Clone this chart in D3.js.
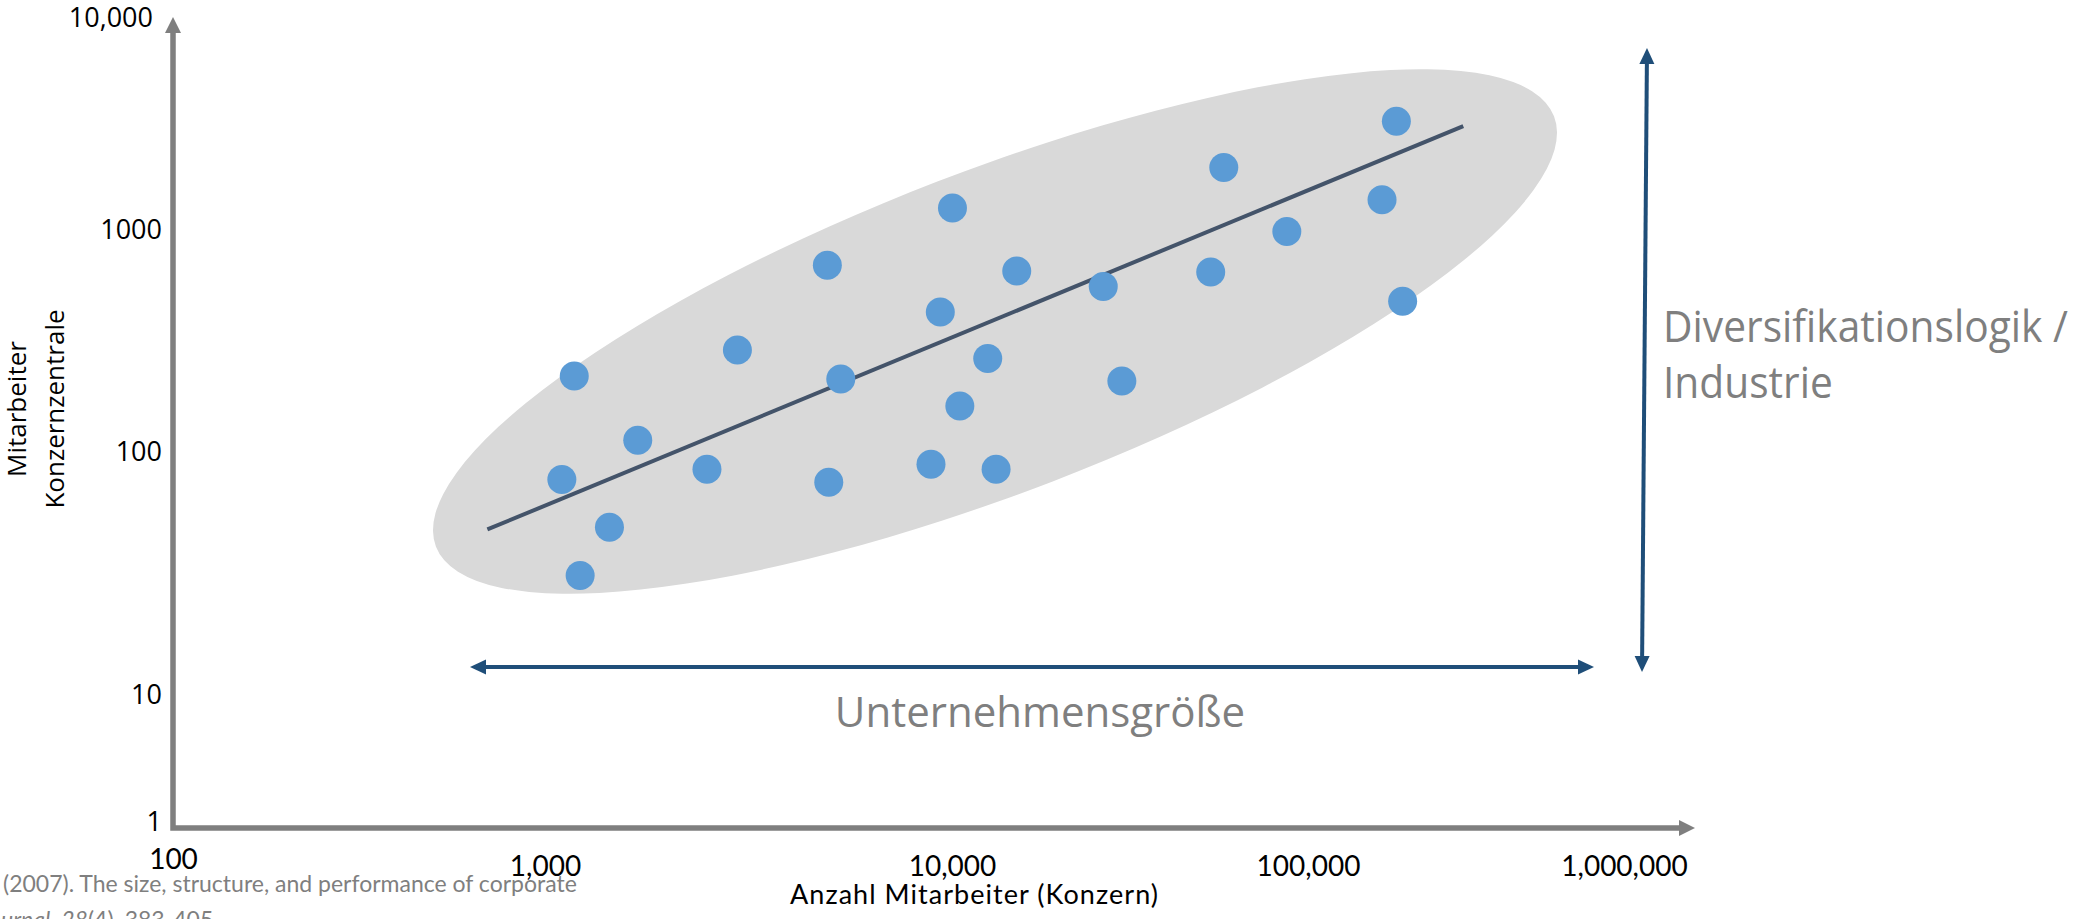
<!DOCTYPE html>
<html>
<head>
<meta charset="utf-8">
<script src="https://cdn.jsdelivr.net/npm/d3@7/dist/d3.min.js"></script>
<style>
  html, body { margin: 0; padding: 0; background: #ffffff; overflow: hidden; }
  svg { display: block; }
</style>
</head>
<body>
<svg id="chart" width="2079" height="919"></svg>
<script>
// Headquarters staff vs. total company employees (log–log, schematic)

// Total employees of the group (x) and headquarters staff (y), one entry per company
const employeesGroup = [1180, 1100, 1690, 1440, 1220, 2500, 2970, 4940, 4980, 5330,
                        8880, 9360, 10030, 10520, 13300, 12600, 15200, 26600, 30000,
                        53300, 58000, 87200, 171500, 190400, 199300];
const employeesHQ    = [220, 77, 113, 49, 31, 85, 288, 694, 75, 213,
                        89, 427, 1270, 161, 85, 264, 653, 556, 209,
                        647, 1970, 985, 1390, 3260, 477];

// Fitted trend (start and end of the line)
const trendX = [700, 310000];
const trendY = [48, 3090];

// Axis ticks
const xTickValues = [100, 1000, 10000, 100000, 1000000];
const xTickLabels = ["100", "1,000", "10,000", "100,000", "1,000,000"];
const yTickValues = [1, 10, 100, 1000, 10000];
const yTickLabels = ["1", "10", "100", "1000", "10,000"];

// Texts
const xTitle = "Anzahl Mitarbeiter (Konzern)";
const yTitle = ["Mitarbeiter", "Konzernzentrale"];
const sizeLabel = "Unternehmensgröße";
const diversLabel = ["Diversifikationslogik /", "Industrie"];
const sourceLine1 = "(2007). The size, structure, and performance of corporate";
const sourceJournalPrefix = "Strategic Management Jo";
const sourceJournal = "urnal";
const sourceVolume = "28";
const sourceRest = "(4), 383-405.";

const svg = d3.select("#chart");

const GRAY = "#7f7f7f";
const BLUE = "#1f4e79";
const DOT = "#5b9bd5";
const TREND = "#44546a";
const SHADE = "#d9d9d9";
const SANS = "'Open Sans', sans-serif";
const CAL = "Lato, sans-serif";

// Piecewise logarithmic scales: one segment per decade
const x = d3.scaleLog().domain(xTickValues).range([173, 545, 952, 1308, 1624]);
const y = d3.scaleLog().domain(yTickValues).range([822, 695, 452, 230, 18]);

// width of a string in a given font
function textWidth(str, family, size, style) {
  const t = svg.append("text")
    .attr("font-family", family).attr("font-size", size)
    .attr("font-style", style || "normal").text(str);
  const w = t.node().getComputedTextLength();
  t.remove();
  return w;
}

// ---- shaded ellipse around the point cloud
svg.append("ellipse")
  .attr("cx", 995).attr("cy", 331.5)
  .attr("rx", 599).attr("ry", 160.6)
  .attr("transform", "rotate(-21.05 995 331.5)")
  .attr("fill", SHADE);

// ---- trend line
svg.append("line")
  .attr("x1", x(trendX[0])).attr("y1", y(trendY[0]))
  .attr("x2", x(trendX[1])).attr("y2", y(trendY[1]))
  .attr("stroke", TREND).attr("stroke-width", 4);

// ---- points
svg.append("g").selectAll("circle")
  .data(employeesGroup.map((v, i) => ({ x: v, y: employeesHQ[i] })))
  .join("circle")
  .attr("cx", d => x(d.x))
  .attr("cy", d => y(d.y))
  .attr("r", 14.5)
  .attr("fill", DOT);

// ---- arrow helper (triangle head with tip at (tx,ty), pointing along angle)
function head(g, tx, ty, ang, len, wid, color) {
  const c = Math.cos(ang), s = Math.sin(ang);
  const bx = tx - c * len, by = ty - s * len;
  const px = -s * wid / 2, py = c * wid / 2;
  g.append("path")
    .attr("d", `M${tx},${ty}L${bx + px},${by + py}L${bx - px},${by - py}Z`)
    .attr("fill", color);
}

// ---- axes (gray arrows)
const axes = svg.append("g");
const ox = 173, oy = 828;
axes.append("path")
  .attr("d", `M${ox},32V${oy}H1681`)
  .attr("fill", "none").attr("stroke", GRAY).attr("stroke-width", 5.5)
  .attr("stroke-linejoin", "miter");
head(axes, ox, 17, -Math.PI / 2, 16, 16, GRAY);
head(axes, 1695, oy, 0, 16, 16, GRAY);

// ---- tick labels
const yAxis = svg.append("g")
  .attr("transform", "translate(162,0)")
  .call(d3.axisLeft(y).tickValues(yTickValues)
        .tickFormat((d, i) => yTickLabels[i]).tickSize(0).tickPadding(0));
yAxis.select(".domain").remove();
yAxis.selectAll("text")
  .attr("font-family", SANS).attr("font-size", 27)
  .attr("fill", "#000");
yAxis.selectAll(".tick").filter(d => d === 10000).select("text").attr("x", -9);

const xAxis = svg.append("g")
  .attr("transform", "translate(0,856)")
  .call(d3.axisBottom(x).tickValues(xTickValues)
        .tickFormat((d, i) => xTickLabels[i]).tickSize(0).tickPadding(0));
xAxis.select(".domain").remove();
xAxis.selectAll("text")
  .attr("font-family", CAL).attr("font-size", 28)
  .attr("fill", "#000");
xAxis.selectAll(".tick").filter(d => d === 100).select("text").attr("y", -7);

// ---- axis titles
svg.append("text")
  .attr("x", 974).attr("y", 904)
  .attr("text-anchor", "middle")
  .attr("font-family", CAL).attr("font-size", 27)
  .attr("textLength", 368).attr("lengthAdjust", "spacing")
  .attr("fill", "#000")
  .text(xTitle);

const yt = svg.append("g").attr("transform", "translate(26,409) rotate(-90)");
yTitle.forEach((line, i) => {
  yt.append("text")
    .attr("x", 0).attr("y", i * 38)
    .attr("text-anchor", "middle")
    .attr("font-family", SANS).attr("font-size", 26)
    .attr("fill", "#000")
    .text(line);
});

// ---- horizontal blue double arrow: company size
const ann = svg.append("g");
ann.append("line")
  .attr("x1", 484).attr("y1", 667).attr("x2", 1580).attr("y2", 667)
  .attr("stroke", BLUE).attr("stroke-width", 4);
head(ann, 470, 667, Math.PI, 16, 15, BLUE);
head(ann, 1594, 667, 0, 16, 15, BLUE);

svg.append("text")
  .attr("x", 1040).attr("y", 727)
  .attr("text-anchor", "middle")
  .attr("font-family", SANS).attr("font-size", 42)
  .attr("fill", GRAY)
  .text(sizeLabel);

// ---- vertical blue double arrow: diversification / industry
const vAng = Math.atan2(672 - 48, 1642 - 1647);
ann.append("line")
  .attr("x1", 1647 + Math.cos(vAng) * 14).attr("y1", 48 + Math.sin(vAng) * 14)
  .attr("x2", 1642 - Math.cos(vAng) * 14).attr("y2", 672 - Math.sin(vAng) * 14)
  .attr("stroke", BLUE).attr("stroke-width", 4);
head(ann, 1647, 48, vAng + Math.PI, 16, 15, BLUE);
head(ann, 1642, 672, vAng, 16, 15, BLUE);

// label to the right of the arrow; first line fills a 405 px box
const dvSize = 44, dvBox = 405;
const dvNatural = textWidth(diversLabel[0], SANS, dvSize);
diversLabel.forEach((line, i) => {
  const t = svg.append("text")
    .attr("x", 1663).attr("y", 342 + i * 56)
    .attr("font-family", SANS).attr("font-size", dvSize)
    .attr("fill", GRAY)
    .text(line);
  if (i === 0) t.attr("textLength", dvBox).attr("lengthAdjust", "spacingAndGlyphs");
  else t.attr("textLength", textWidth(line, SANS, dvSize) * dvBox / dvNatural)
        .attr("lengthAdjust", "spacingAndGlyphs");
});

// ---- source note (journal line runs off the left edge of the slide)
const srcSize = 23;
const src = svg.append("g")
  .attr("font-family", CAL).attr("font-size", srcSize)
  .attr("fill", GRAY);
src.append("text").attr("x", 3).attr("y", 892).text(sourceLine1);

const l2 = src.append("text")
  .attr("x", 1 - textWidth(sourceJournalPrefix, CAL, srcSize, "italic")).attr("y", 928);
l2.append("tspan").attr("font-style", "italic").text(sourceJournalPrefix + sourceJournal);
l2.append("tspan").text(", ");
l2.append("tspan").attr("font-style", "italic").text(sourceVolume);
l2.append("tspan").text(sourceRest);
</script>
</body>
</html>
